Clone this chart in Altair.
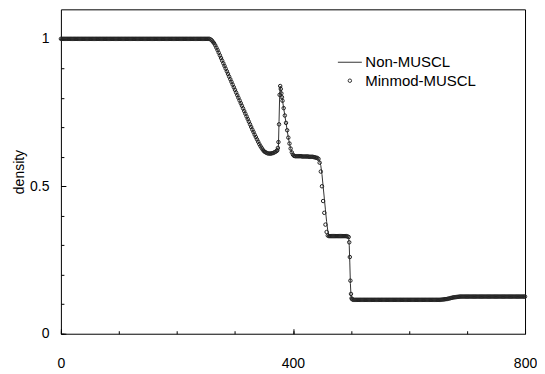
import altair as alt
import pandas as pd

# ---- data (cell position x, density) ----
X_LEFT = list(range(0, 256, 2))
D_LEFT = [1.0] * 128

X_RARE = list(range(256, 374, 2))
D_RARE = [1.0, 0.998, 0.995, 0.99, 0.985, 0.978, 0.97, 0.962, 0.953, 0.944,
          0.935, 0.926, 0.917, 0.908, 0.899, 0.89, 0.881, 0.872, 0.863, 0.854,
          0.845, 0.836, 0.827, 0.818, 0.809, 0.80, 0.791, 0.782, 0.773, 0.764,
          0.755, 0.746, 0.737, 0.728, 0.719, 0.71, 0.701, 0.692, 0.684, 0.675,
          0.667, 0.659, 0.651, 0.643, 0.636, 0.63, 0.624, 0.619, 0.616, 0.614,
          0.612, 0.611, 0.611, 0.611, 0.612, 0.613, 0.615, 0.617, 0.62]

X_SPIKE = [373, 374, 375, 376, 377, 378, 379, 380, 381, 382,
           384, 386, 388, 390, 392, 394, 396, 398, 400, 402]
D_SPIKE_MINMOD = [0.622, 0.63, 0.65, 0.71, 0.81, 0.84, 0.83, 0.815, 0.802, 0.79,
                  0.765, 0.74, 0.715, 0.69, 0.665, 0.645, 0.628, 0.615, 0.607, 0.603]
D_SPIKE_NON = [0.621, 0.625, 0.64, 0.72, 0.80, 0.84, 0.83, 0.815, 0.802, 0.79,
               0.765, 0.74, 0.715, 0.69, 0.665, 0.645, 0.628, 0.615, 0.607, 0.603]

X_PLAT1 = list(range(404, 444, 2))
D_PLAT1 = [0.602] * 6 + [0.601] * 6 + [0.600] * 4 + [0.599, 0.598, 0.597, 0.596]

X_DROP1 = [444, 446, 448, 450, 452, 454, 456, 458, 460, 462, 464]
D_DROP1_MINMOD = [0.593, 0.58, 0.55, 0.50, 0.45, 0.41, 0.37, 0.345, 0.333, 0.331, 0.331]
D_DROP1_NON = [0.593, 0.585, 0.57, 0.54, 0.50, 0.46, 0.42, 0.38, 0.35, 0.335, 0.331]

X_PLAT2 = list(range(466, 496, 2))
D_PLAT2 = [0.331] * 14 + [0.33]

X_DROP2 = [496, 497, 498, 499, 500, 501, 502]
D_DROP2_MINMOD = [0.328, 0.31, 0.26, 0.18, 0.135, 0.12, 0.117]
D_DROP2_NON = [0.328, 0.30, 0.24, 0.17, 0.13, 0.118, 0.116]

X_RIGHT = list(range(504, 801, 2))
D_RIGHT = ([0.115] * 76
           + [0.1155, 0.116, 0.1165, 0.117, 0.1175, 0.118, 0.119, 0.12,
              0.121, 0.122, 0.123, 0.1235, 0.124, 0.1245, 0.125, 0.1255]
           + [0.126] * 57)

SERIES = ["Non-MUSCL", "Minmod-MUSCL"]
X_MAJOR = [0, 400, 800]
X_MINOR = [0, 100, 200, 300, 400, 500, 600, 700, 800]
Y_MAJOR = [0, 0.5, 1]
Y_MINOR = [0.0, 0.1, 0.2, 0.3, 0.4, 0.5, 0.6, 0.7, 0.8, 0.9, 1.0]

x_all = X_LEFT + X_RARE + X_SPIKE + X_PLAT1 + X_DROP1 + X_PLAT2 + X_DROP2 + X_RIGHT
d_non = (D_LEFT + D_RARE + D_SPIKE_NON + D_PLAT1 + D_DROP1_NON + D_PLAT2
         + D_DROP2_NON + D_RIGHT)
d_minmod = (D_LEFT + D_RARE + D_SPIKE_MINMOD + D_PLAT1 + D_DROP1_MINMOD + D_PLAT2
            + D_DROP2_MINMOD + D_RIGHT)

line_df = pd.DataFrame({"x": x_all, "density": d_non, "series": SERIES[0]})
pts_df = pd.DataFrame({"x": x_all, "density": d_minmod, "series": SERIES[1]})

FONT = "Liberation Sans"
xscale = alt.Scale(domain=[0, 800], nice=False, zero=False)
yscale = alt.Scale(domain=[0, 1.1], nice=False)

common_axis = dict(domain=False, tickColor="#000", tickWidth=1, grid=False,
                   labelFont=FONT, labelFontSize=14, labelColor="#000",
                   labelFlush=False,
                   titleFont=FONT, titleFontSize=14, titleColor="#000",
                   titleFontWeight="normal")

line = alt.Chart(line_df).mark_line(color="#333", strokeWidth=1).encode(
    x=alt.X("x:Q", scale=xscale,
            axis=alt.Axis(values=X_MAJOR, orient="bottom", title="x",
                          tickSize={"expr": "-5"}, labelPadding=28,
                          titlePadding=2, **common_axis)),
    y=alt.Y("density:Q", scale=yscale,
            axis=alt.Axis(values=Y_MAJOR, orient="left", format="~g",
                          title="density", tickSize={"expr": "-5"},
                          labelPadding=17, titlePadding=3, **common_axis)),
)

leg = alt.Legend(title=None, orient="none", legendX=277, legendY=40.5,
                 labelFont=FONT, labelFontSize=15, labelColor="#000",
                 symbolStrokeColor="#333", symbolStrokeWidth=1,
                 labelOffset=3, rowPadding=2.5, padding=0)

pts = alt.Chart(pts_df).mark_point(filled=False, color="#222", strokeWidth=1,
                                   opacity=1).encode(
    x=alt.X("x:Q", scale=xscale,
            axis=alt.Axis(values=X_MINOR, orient="bottom", title=None,
                          labels=False, tickSize={"expr": "-3"}, **common_axis)),
    y=alt.Y("density:Q", scale=yscale,
            axis=alt.Axis(values=Y_MINOR, orient="left", title=None,
                          labels=False, tickSize={"expr": "-3"}, **common_axis)),
    shape=alt.Shape("series:N",
                    scale=alt.Scale(domain=SERIES, range=["stroke", "circle"]),
                    legend=leg),
    size=alt.Size("series:N",
                  scale=alt.Scale(type="ordinal", domain=SERIES, range=[576, 12]),
                  legend=leg),
)

chart = alt.layer(line, pts).resolve_axis(
    x="independent", y="independent"
).properties(
    width=465, height=325,
    autosize=alt.AutoSizeParams(type="none"),
    padding={"left": 53, "top": 1, "right": 12, "bottom": 41},
).configure_view(stroke="#000", strokeWidth=1, fill="white")

chart.save("out.html", embed_options={"renderer": "svg", "actions": False})
